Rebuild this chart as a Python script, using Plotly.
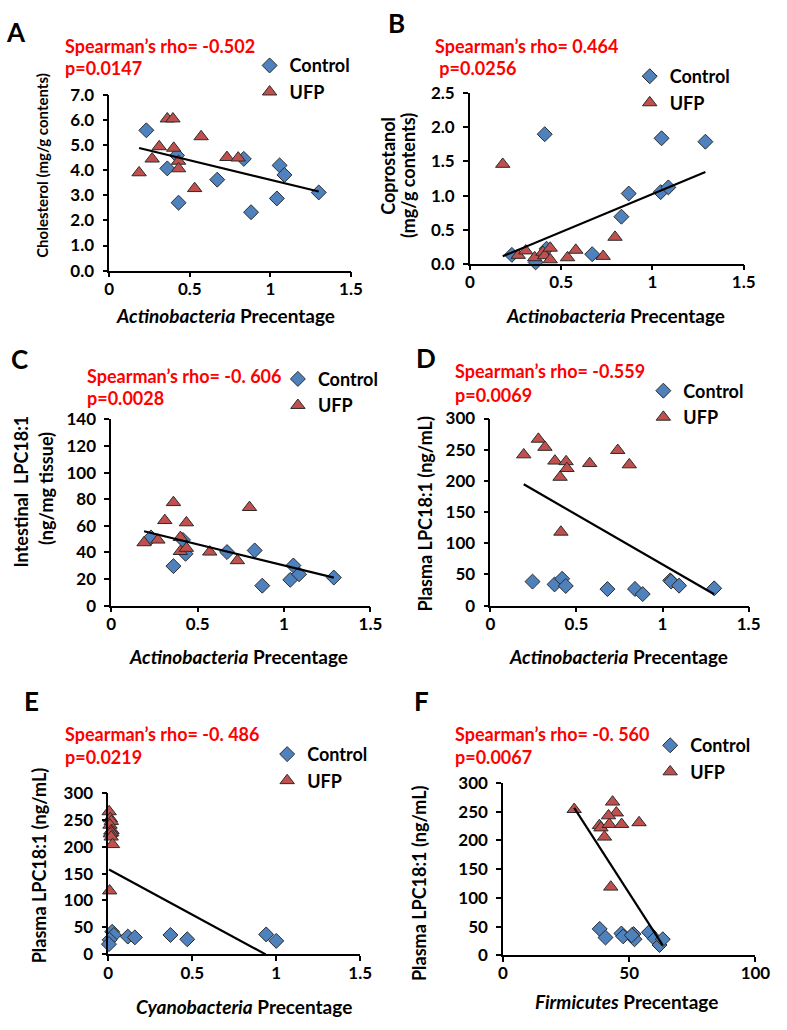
import numpy as np
import plotly.graph_objects as go

W, H = 787, 1030

# ---------------- data ----------------
# A: Cholesterol vs Actinobacteria
a_ctrl_x = [0.23, 0.36, 0.42, 0.43, 0.67, 0.835, 0.88, 1.04, 1.057, 1.087, 1.30]
a_ctrl_y = [5.6, 4.08, 4.6, 2.71, 3.63, 4.46, 2.33, 2.88, 4.2, 3.82, 3.12]
a_ufp_x = [0.185, 0.266, 0.31, 0.36, 0.395, 0.40, 0.43, 0.43, 0.53, 0.57, 0.73, 0.80]
a_ufp_y = [3.91, 4.46, 4.95, 6.06, 6.06, 4.89, 4.37, 4.07, 3.28, 5.35, 4.52, 4.5]

# B: Coprostanol vs Actinobacteria
b_ctrl_x = [0.23, 0.36, 0.42, 0.41, 0.67, 0.83, 0.87, 1.045, 1.087, 1.05, 1.29]
b_ctrl_y = [0.13, 0.02, 0.22, 1.90, 0.14, 0.69, 1.03, 1.05, 1.12, 1.84, 1.79]
b_ufp_x = [0.18, 0.265, 0.306, 0.355, 0.40, 0.41, 0.44, 0.44, 0.535, 0.58, 0.73, 0.795]
b_ufp_y = [1.46, 0.125, 0.19, 0.09, 0.17, 0.12, 0.23, 0.06, 0.09, 0.20, 0.11, 0.39]

# C: Intestinal LPC18:1 vs Actinobacteria
c_ctrl_x = [0.23, 0.36, 0.415, 0.43, 0.67, 0.83, 0.874, 1.036, 1.054, 1.087, 1.288]
c_ctrl_y = [51.3, 29.7, 49.4, 39, 40.3, 41.5, 15, 19.4, 30.2, 23.6, 21.1]
c_ufp_x = [0.19, 0.27, 0.31, 0.36, 0.40, 0.40, 0.435, 0.435, 0.57, 0.73, 0.80]
c_ufp_y = [47.4, 49.4, 64.1, 77.6, 51.3, 40.8, 62.4, 43.2, 40.4, 33.9, 73.9]

# D: Plasma LPC18:1 vs Actinobacteria
d_ctrl_x = [0.245, 0.373, 0.417, 0.438, 0.68, 0.84, 0.885, 1.045, 1.05, 1.096, 1.30]
d_ctrl_y = [38.5, 34, 43, 31.5, 26.5, 26.7, 18.5, 40.5, 38.7, 32, 27.7]
d_ufp_x = [0.194, 0.279, 0.317, 0.375, 0.405, 0.41, 0.44, 0.445, 0.577, 0.74, 0.807]
d_ufp_y = [242, 267, 254, 232, 206, 118, 231, 220, 228, 249, 226]

# E: Plasma LPC18:1 vs Cyanobacteria
e_ctrl_x = [0.023, 0.033, 0.008, 0.004, 0.116, 0.158, 0.37, 0.47, 0.94, 1.0]
e_ctrl_y = [42, 36, 27, 19, 33, 31.5, 36, 28, 37, 25]
e_ufp_x = [0.005, 0.012, 0.018, 0.01, 0.022, 0.015, 0.02, 0.012, 0.017, 0.025, 0.008]
e_ufp_y = [265, 252, 247, 240, 230, 229, 226, 224, 218, 204, 118]

# F: Plasma LPC18:1 vs Firmicutes
f_ctrl_x = [38.3, 40.6, 46.9, 47.6, 51.7, 52.1, 51.0, 57.8, 60.1, 62.0, 63.3]
f_ctrl_y = [46, 31, 38, 33, 37, 28, 35, 40, 29, 18, 28]
f_ufp_x = [28.2, 43.4, 44.9, 41.8, 38.2, 38.8, 42.1, 47.0, 53.9, 40.2, 42.7]
f_ufp_y = [254, 267, 248, 243, 226, 222, 228, 228, 231, 206, 119]

letters = ["A", "B", "C", "D", "E", "F"]
rho_texts = ["Spearman’s rho= -0.502", "Spearman’s rho= 0.464", "Spearman’s rho= -0. 606",
             "Spearman’s rho= -0.559", "Spearman’s rho= -0. 486", "Spearman’s rho= -0. 560"]
p_texts = ["p=0.0147", " p=0.0256", "p=0.0028", "p=0.0069", "p=0.0219", "p=0.0067"]
x_titles = ["<i>Actinobacteria</i> Precentage"] * 4 + ["<i>Cyanobacteria</i> Precentage",
                                                      "<i>Firmicutes</i> Precentage"]
x_ranges = [[0, 1.5]] * 5 + [[0, 100]]
x_ticks = [[0, 0.5, 1, 1.5]] * 5 + [[0, 50, 100]]
y_ranges = [[0, 7], [0, 2.5], [0, 140], [0, 300], [0, 300], [0, 300]]
y_dticks = [1, 0.5, 20, 50, 50, 50]
y_formats = [".1f", ".1f", "d", "d", "d", "d"]

panels = [
    (a_ctrl_x, a_ctrl_y, a_ufp_x, a_ufp_y),
    (b_ctrl_x, b_ctrl_y, b_ufp_x, b_ufp_y),
    (c_ctrl_x, c_ctrl_y, c_ufp_x, c_ufp_y),
    (d_ctrl_x, d_ctrl_y, d_ufp_x, d_ufp_y),
    (e_ctrl_x, e_ctrl_y, e_ufp_x, e_ufp_y),
    (f_ctrl_x, f_ctrl_y, f_ufp_x, f_ufp_y),
]

# ---------------- layout geometry (pixels) ----------------
plot_px = [  # x0, x1, ytop, ybottom
    (107, 355, 86, 265),
    (477, 758, 84, 258),
    (109, 375, 417, 607),
    (498, 763, 416, 607),
    (106, 364.5, 798, 963),
    (511, 770, 788, 964),
]
letter_pos = [(11, 21), (402, 12), (15, 355), (432, 354), (27, 704), (427, 704)]
red_pos = [(60, 36, 58), (439, 36, 58), (82, 373, 395), (460, 368, 392), (60, 738, 762), (460, 738, 762)]
legend_marker = [(273, 56), (663, 67), (302, 376), (677, 388), (291, 759), (684, 750)]
xtitle_pos = [(226, 311), (626, 311), (240, 659), (630, 659), (245, 1016), (638, 1011)]
ytitles = [  # text, x, y, font size
    [("Cholesterol (mg/g contents)", 38, 158, 15)],
    [("Coprostanol", 393, 158, 18), ("(mg/g contents)", 413, 168, 18)],
    [("Intestinal  LPC18:1", 16, 491, 18), ("(ng/mg tissue)", 42, 487, 18)],
    [("Plasma LPC18:1 (ng/mL)", 430, 513, 18)],
    [("Plasma LPC18:1 (ng/mL)", 35, 872, 18)],
    [("Plasma LPC18:1 (ng/mL)", 425, 890, 18)],
]


def px(x):
    return x / W


def py(y):
    return 1 - y / H


FONT = "Lato"
BLUE = "#4F81BD"
RED = "#C0504D"
EDGE = "#2b2b2b"

fig = go.Figure()
annotations = []
layout = dict(
    width=W, height=H, margin=dict(l=0, r=0, t=0, b=0),
    paper_bgcolor="white", plot_bgcolor="white",
    font=dict(family=FONT, size=15, color="black", weight="bold"),
)

for i, (cx, cy, ux, uy) in enumerate(panels):
    k = i + 1
    xa = "x" if k == 1 else f"x{k}"
    ya = "y" if k == 1 else f"y{k}"
    lg = "legend" if k == 1 else f"legend{k}"
    fig.add_trace(go.Scatter(
        x=cx, y=cy, mode="markers", name="Control", xaxis=xa, yaxis=ya, legend=lg,
        legendgroup=f"c{k}", cliponaxis=False,
        marker=dict(symbol="diamond", size=11.5, color=BLUE, line=dict(color=EDGE, width=1))))
    fig.add_trace(go.Scatter(
        x=ux, y=uy, mode="markers", name="UFP", xaxis=xa, yaxis=ya, legend=lg,
        legendgroup=f"u{k}", cliponaxis=False,
        marker=dict(symbol="triangle-up", size=12.5, color=RED, line=dict(color=EDGE, width=1))))
    # linear trend line (least squares on all points)
    allx = np.array(list(cx) + list(ux), dtype=float)
    ally = np.array(list(cy) + list(uy), dtype=float)
    slope, inter = np.polyfit(allx, ally, 1)
    lx = np.array([allx.min(), allx.max()])
    ly = slope * lx + inter
    if ly[-1] < 0:
        lx[-1] = -inter / slope
        ly[-1] = 0
    fig.add_trace(go.Scatter(
        x=lx, y=ly, mode="lines", showlegend=False, xaxis=xa, yaxis=ya, cliponaxis=False,
        line=dict(color="black", width=2.2)))

    x0, x1, yt, yb = plot_px[i]
    axis_common = dict(showline=True, linecolor="black", linewidth=1.5, ticks="outside",
                       ticklen=5, tickwidth=1.5, tickcolor="black", showgrid=False,
                       zeroline=False, fixedrange=True,
                       tickfont=dict(family=FONT, size=17, color="black", weight="bold"))
    layout["xaxis" if k == 1 else f"xaxis{k}"] = dict(
        domain=[px(x0), px(x1)], range=x_ranges[i], tickvals=x_ticks[i],
        anchor=ya, ticklabelstandoff=-3, **axis_common)
    layout["yaxis" if k == 1 else f"yaxis{k}"] = dict(
        domain=[py(yb), py(yt)], range=y_ranges[i], dtick=y_dticks[i], tick0=0,
        tickformat=y_formats[i], anchor=xa, ticklabelstandoff=5, **axis_common)

    mx, my = legend_marker[i]
    layout[lg] = dict(x=px(mx - 22), y=py(my - 19), xanchor="left", yanchor="top",
                      bgcolor="rgba(0,0,0,0)", tracegroupgap=0,
                      font=dict(family=FONT, size=18, color="black", weight="bold"),
                      itemclick=False, itemdoubleclick=False)

    lx0, ly0 = letter_pos[i]
    annotations.append(dict(text=letters[i], x=px(lx0), y=py(ly0), xref="paper", yref="paper",
                            showarrow=False, xanchor="center", yanchor="middle",
                            font=dict(family=FONT, size=26, color="black", weight="bold")))
    rx, ry1, ry2 = red_pos[i]
    for t, yy in ((rho_texts[i], ry1), (p_texts[i], ry2)):
        annotations.append(dict(text=t, x=px(rx), y=py(yy), xref="paper", yref="paper",
                                showarrow=False, xanchor="left", yanchor="middle",
                                font=dict(family=FONT, size=18, color="#FF0000", weight="bold")))
    tx, ty = xtitle_pos[i]
    annotations.append(dict(text=x_titles[i], x=px(tx), y=py(ty), xref="paper", yref="paper",
                            showarrow=False, xanchor="center", yanchor="middle",
                            font=dict(family=FONT, size=19, color="black", weight="bold")))
    for t, xx, yy, fs in ytitles[i]:
        annotations.append(dict(text=t, x=px(xx), y=py(yy), xref="paper", yref="paper",
                                showarrow=False, xanchor="center", yanchor="middle",
                                textangle=-90,
                                font=dict(family=FONT, size=fs, color="black", weight="bold")))

layout["annotations"] = annotations
fig.update_layout(**layout)
fig.write_html(
    "out.html",
    config={"displayModeBar": False},
    post_script="document.body.style.margin='0';document.body.style.overflow='hidden';"
                "document.documentElement.style.overflow='hidden';",
)
